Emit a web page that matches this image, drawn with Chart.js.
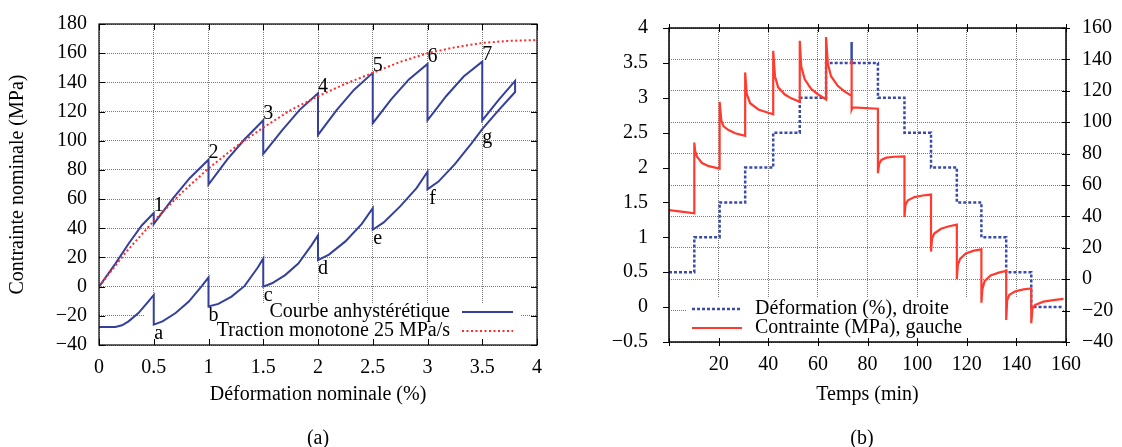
<!DOCTYPE html>
<html>
<head>
<meta charset="utf-8">
<script src="https://cdn.jsdelivr.net/npm/chart.js@4/dist/chart.umd.min.js"></script>
<style>
  html, body { margin: 0; padding: 0; background: #fff; }
  #wrap { position: relative; width: 1122px; height: 447px; font-family: "Liberation Serif", "Times New Roman", serif; }
  .panel { position: absolute; top: 0; width: 561px; height: 447px; }
  .cap { position: absolute; top: 425px; width: 60px; font-size: 20px; line-height: 24px; text-align: center; }
</style>
</head>
<body>
<div id="wrap">
  <div class="panel" style="left:0"><canvas id="chartA" width="561" height="447"></canvas></div>
  <div class="panel" style="left:561px"><canvas id="chartB" width="561" height="447"></canvas></div>
  <div class="cap" style="left:288px">(a)</div>
  <div class="cap" style="left:832px">(b)</div>
</div>
<script>
// ---- (a) courbe anhystérétique / traction monotone ----
// upper branch (after each hold the stress drops), strain in %, stress in MPa
const upperStrain = [0, 0.15, 0.27, 0.39, 0.5, 0.5, 0.67, 0.83, 1, 1, 1.17, 1.33, 1.5, 1.5, 1.67, 1.83, 2,
  2, 2.17, 2.33, 2.5, 2.5, 2.67, 2.83, 3, 3, 3.17, 3.33, 3.5, 3.5, 3.65, 3.8];
const upperStress = [0, 15.8, 29.4, 41.9, 50.5, 43, 60, 74.5, 87, 70, 87, 101, 114, 91, 107, 121, 132.5,
  104, 121, 135, 146.5, 112, 128.5, 142, 152.6, 114, 130.5, 144, 154.2, 114, 128, 141];
// lower branch
const lowerStrain = [0, 0.15, 0.21, 0.27, 0.36, 0.45, 0.5, 0.5, 0.58, 0.7, 0.82, 0.94, 1, 1, 1.09, 1.21, 1.33, 1.45, 1.5,
  1.5, 1.58, 1.7, 1.82, 1.94, 2, 2, 2.1, 2.25, 2.4, 2.5, 2.5, 2.6, 2.75, 2.9, 3, 3, 3.1, 3.25, 3.4, 3.5, 3.65, 3.8];
const lowerStress = [-27.6, -27.6, -26.5, -23.8, -18.1, -10.2, -5.7, -26, -23.8, -18.1, -10.2, 0.5, 6.3, -13.6, -11.8, -6.8, 0.5, 13.1, 19.2,
  0, 2.3, 7.9, 15.8, 28.3, 35.1, 18.1, 22, 31, 43, 53.8, 39, 44, 55, 67.5, 78.7, 66.7, 72, 84, 98, 108, 121, 133.4];
// monotonic tensile test 25 MPa/s
const tractionStrain = [0, 0.25, 0.5, 0.75, 1, 1.25, 1.5, 1.75, 2, 2.25, 2.5, 2.75, 3, 3.25, 3.5, 3.75, 4];
const tractionStress = [0, 24, 45, 64, 81, 96, 109, 121, 130.5, 139, 146.5, 154, 160, 164, 167, 168.5, 169];
// hold levels and their names
const holdStrain = [0.5, 1, 1.5, 2, 2.5, 3, 3.5];
const upperNames = ['1', '2', '3', '4', '5', '6', '7'];
const lowerNames = ['a', 'b', 'c', 'd', 'e', 'f', 'g'];

// ---- (b) essai en fonction du temps ----
const strainTime = [0, 10.2, 20.4, 30.7, 42.0, 52.7, 63.3, 73.6, 73.6, 84.2, 94.9, 105.6, 116.0, 125.9, 135.9, 146.0, 159.0];
const strainValue = [0.5, 1.0, 1.5, 2.0, 2.5, 3.0, 3.5, 3.8, 3.5, 3.0, 2.5, 2.0, 1.5, 1.0, 0.5, 0, 0];

const stressTime = [0, 5, 10.2,
  10.2, 10.5, 11.3, 13.3, 16, 20.4,
  20.4, 21.1, 22, 24, 26.7, 30.7,
  30.7, 31.3, 32.7, 36, 40, 42,
  42, 42.7, 44, 46.7, 49.3, 52.7,
  52.7, 53.3, 54.7, 57.3, 60, 63.3,
  63.3, 64, 65.3, 68, 70.7, 73.6,
  73.6, 73.6, 74, 84.2,
  84.2, 84.7, 85.6, 87.6, 90.9, 94.9,
  94.9, 95.3, 96.3, 98.9, 102.3, 105.6,
  105.6, 106, 106.9, 109.6, 112.9, 116,
  116, 116.4, 117.3, 119.6, 122.9, 125.9,
  125.9, 126.3, 127.2, 129.6, 132.9, 135.9,
  135.9, 136.3, 137.2, 139.6, 142.9, 146,
  146, 146.5, 147.6, 150.9, 154.9, 159];
const stressValue = [44, 43, 42,
  87, 82, 78, 74, 72, 70.5,
  113, 101, 97.4, 95, 93, 91.3,
  131.7, 118.2, 112.1, 108.1, 106, 105,
  145.5, 129.3, 122.2, 117.6, 115.2, 113,
  151.9, 135.4, 127.3, 121.2, 117.8, 114.5,
  154.3, 137.4, 129.3, 123.2, 119.6, 116.8,
  139.5, 108, 109.5, 108.6,
  67.5, 73.5, 76, 77.4, 78, 78.2,
  39.6, 47.3, 50.3, 52.3, 53.3, 53.9,
  17.6, 25.7, 29.1, 32.1, 33.7, 34.7,
  0.2, 8.9, 12.9, 16.4, 18.2, 19,
  -15, -6.3, -1.2, 2.4, 4.2, 5.3,
  -26, -13.3, -9.9, -7.7, -6.5, -5.9,
  -28, -18.4, -16.4, -14.3, -13.3, -12.5];

const FONT = '"Liberation Serif", "Times New Roman", serif';
const GRID = '#7a7a7a';
Chart.defaults.font.family = FONT;
Chart.defaults.font.size = 20;
Chart.defaults.color = '#000';

const pts = (xs, ys) => xs.map((x, i) => ({ x: x, y: ys[i] }));
const minus = v => String(v).replace('-', '\u2212');

// box + tick marks (gnuplot look)
function makeFrame(cfg) {
  return {
    id: 'frame',
    afterDraw(chart) {
      const { ctx, chartArea: a } = chart;
      ctx.save();
      ctx.strokeStyle = '#000';
      ctx.setLineDash([]);
      ctx.lineWidth = 1;
      ctx.beginPath();
      for (const [side, spec] of Object.entries(cfg.sides)) {
        const s = chart.scales[spec.id];
        s.ticks.forEach(t => {
          const p = Math.round(s.getPixelForValue(t.value)) + 0.5;
          if (side === 'bottom') { ctx.moveTo(p, a.bottom + spec.outer); ctx.lineTo(p, a.bottom - spec.inner); }
          if (side === 'top') { ctx.moveTo(p, a.top - spec.outer); ctx.lineTo(p, a.top + spec.inner); }
          if (side === 'left') { ctx.moveTo(a.left - spec.outer, p); ctx.lineTo(a.left + spec.inner, p); }
          if (side === 'right') { ctx.moveTo(a.right + spec.outer, p); ctx.lineTo(a.right - spec.inner, p); }
        });
      }
      ctx.stroke();
      ctx.lineWidth = cfg.width;
      ctx.strokeRect(a.left, a.top, a.right - a.left, a.bottom - a.top);
      ctx.restore();
    }
  };
}

// opaque key like gnuplot
function makeKey(cfg) {
  return {
    id: 'key',
    beforeDatasetsDraw(chart) {
      const ctx = chart.ctx;
      ctx.save();
      ctx.fillStyle = '#fff';
      ctx.fillRect(cfg.x0, cfg.y0, cfg.x1 - cfg.x0, cfg.y1 - cfg.y0);
      ctx.restore();
    },
    afterDatasetsDraw(chart) {
      const ctx = chart.ctx;
      ctx.save();
      ctx.font = '20px ' + FONT;
      ctx.fillStyle = '#000';
      ctx.textBaseline = 'middle';
      ctx.textAlign = cfg.align;
      chart.data.datasets.forEach((ds, i) => {
        const y = cfg.rowY + i * cfg.rowH;
        ctx.fillText(ds.label, cfg.textX, y);
        ctx.strokeStyle = ds.borderColor;
        ctx.lineWidth = ds.borderWidth;
        ctx.setLineDash(ds.borderDash || []);
        ctx.beginPath();
        ctx.moveTo(cfg.lineX0, y);
        ctx.lineTo(cfg.lineX1, y);
        ctx.stroke();
      });
      ctx.restore();
    }
  };
}

const holdLabels = {
  id: 'holdLabels',
  afterDatasetsDraw(chart) {
    const { ctx, scales: { x, y } } = chart;
    ctx.save();
    ctx.font = '20px ' + FONT;
    ctx.fillStyle = '#000';
    ctx.textAlign = 'center';
    ctx.textBaseline = 'middle';
    holdStrain.forEach((s, i) => {
      const top = Math.max(...upperStress.filter((v, j) => upperStrain[j] === s));
      const bot = Math.min(...lowerStress.filter((v, j) => lowerStrain[j] === s));
      ctx.fillText(upperNames[i], x.getPixelForValue(s) + 5, y.getPixelForValue(top) - 7);
      ctx.fillText(lowerNames[i], x.getPixelForValue(s) + 5, y.getPixelForValue(bot) + 9);
    });
    ctx.restore();
  }
};

// closed path: upper branch then back along the lower branch
const anhyst = pts(upperStrain, upperStress).concat(pts(lowerStrain, lowerStress).reverse());

const dotted = { color: GRID, lineWidth: 1, drawTicks: false };

new Chart(document.getElementById('chartA'), {
  type: 'scatter',
  data: {
    datasets: [{
      label: 'Courbe anhystérétique',
      data: anhyst,
      showLine: true,
      borderColor: '#34409c',
      borderWidth: 2,
      pointRadius: 0,
      order: 2
    }, {
      label: 'Traction monotone 25 MPa/s',
      data: pts(tractionStrain, tractionStress),
      showLine: true,
      borderColor: '#ff2a2a',
      borderWidth: 2,
      borderDash: [2, 2.5],
      pointRadius: 0,
      order: 1
    }]
  },
  options: {
    responsive: false,
    animation: false,
    layout: { padding: { top: 20, right: 24, left: 0, bottom: 0 } },
    plugins: { legend: { display: false }, tooltip: { enabled: false } },
    scales: {
      x: {
        type: 'linear', min: 0, max: 4,
        ticks: { stepSize: 0.5, padding: 11, maxRotation: 0, callback: minus },
        grid: dotted,
        border: { display: false, dash: [1, 1] },
        title: { display: true, text: 'Déformation nominale (%)', font: { size: 20 }, padding: { top: 0, bottom: 40 } },
        afterFit: s => { s.height = 102; }
      },
      y: {
        min: -40, max: 180,
        ticks: { stepSize: 20, padding: 12, callback: minus },
        grid: dotted,
        border: { display: false, dash: [1, 1] },
        title: { display: true, text: 'Contrainte nominale (MPa)', font: { size: 20 }, padding: { top: 6, bottom: 0 } },
        afterFit: s => { s.width = 99; }
      }
    }
  },
  plugins: [
    makeKey({ x0: 145, y0: 303, x1: 520, y1: 345, align: 'right', textX: 450, rowY: 312, rowH: 19, lineX0: 462, lineX1: 513 }),
    holdLabels,
    makeFrame({
      sides: {
        bottom: { id: 'x', inner: 6, outer: 0 }, top: { id: 'x', inner: 6, outer: 0 },
        left: { id: 'y', inner: 6, outer: 0 }, right: { id: 'y', inner: 6, outer: 0 }
      },
      width: 1.2
    })
  ]
});

new Chart(document.getElementById('chartB'), {
  type: 'scatter',
  data: {
    datasets: [{
      label: 'Déformation (%), droite',
      data: pts(strainTime, strainValue),
      yAxisID: 'y',
      showLine: true,
      stepped: true,
      borderColor: '#3a4aa8',
      borderWidth: 2.5,
      borderDash: [3, 2],
      pointRadius: 0,
      order: 2
    }, {
      label: 'Contrainte (MPa), gauche',
      data: pts(stressTime, stressValue),
      yAxisID: 'y2',
      showLine: true,
      borderColor: '#ff3a2e',
      borderWidth: 2.2,
      pointRadius: 0,
      order: 1
    }]
  },
  options: {
    responsive: false,
    animation: false,
    layout: { padding: { top: 13, right: 0, left: 0, bottom: 0 } },
    plugins: { legend: { display: false }, tooltip: { enabled: false } },
    scales: {
      x: {
        type: 'linear', min: 0, max: 160,
        ticks: { stepSize: 20, padding: 11, maxRotation: 0, callback: v => (v === 0 ? '' : v) },
        grid: dotted,
        border: { display: false, dash: [1, 1] },
        title: { display: true, text: 'Temps (min)', font: { size: 20 }, padding: { top: 0, bottom: 40 } },
        afterFit: s => { s.height = 105; }
      },
      y: {
        position: 'left', min: -0.5, max: 4,
        ticks: { stepSize: 0.5, padding: 13, callback: minus },
        grid: { display: false },
        border: { display: false },
        afterFit: s => { s.width = 108; }
      },
      y2: {
        position: 'right', min: -40, max: 160,
        ticks: { stepSize: 20, padding: 16, callback: minus },
        grid: dotted,
        border: { display: false, dash: [1, 1] },
        afterFit: s => { s.width = 56; }
      }
    }
  },
  plugins: [
    makeKey({ x0: 126, y0: 298, x1: 501, y1: 342, align: 'left', textX: 194, rowY: 309, rowH: 19, lineX0: 131, lineX1: 181 }),
    makeFrame({
      sides: {
        bottom: { id: 'x', inner: 4, outer: 4 }, top: { id: 'x', inner: 4, outer: 4 },
        left: { id: 'y', inner: 0, outer: 6 }, right: { id: 'y2', inner: 4, outer: 4 }
      },
      width: 1.5
    })
  ]
});
</script>
</body>
</html>
